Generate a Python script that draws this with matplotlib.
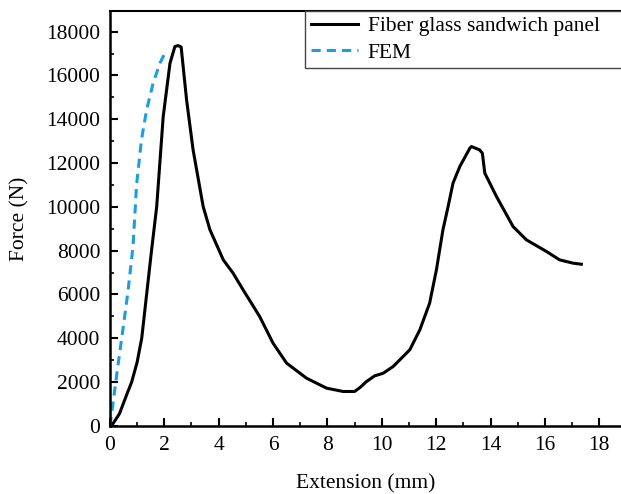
import matplotlib.pyplot as plt
from matplotlib.ticker import MultipleLocator

# experimental curve (extension in mm, force in N)
exp_x = [0.0, 0.06, 0.35, 0.61, 0.80, 1.00, 1.17, 1.35, 1.53, 1.72, 1.96, 2.21, 2.39, 2.51,
         2.62, 2.82, 3.06, 3.43, 3.68, 3.98, 4.17, 4.53, 4.90, 5.51, 6.00, 6.50, 7.23, 7.97,
         8.58, 9.00, 9.20, 9.44, 9.74, 10.05, 10.42, 11.03, 11.40, 11.76, 12.01, 12.25, 12.44,
         12.62, 12.87, 13.24, 13.30, 13.60, 13.70, 13.79, 14.22, 14.83, 15.32, 16.06, 16.54,
         17.03, 17.34]
exp_y = [0, 0, 550, 1400, 2000, 2900, 4000, 6000, 8000, 10000, 14123, 16560, 17320, 17365,
         17300, 14886, 12600, 10013, 8950, 8114, 7580, 6972, 6210, 4990, 3775, 2862, 2177, 1720,
         1568, 1568, 1750, 2024, 2283, 2400, 2710, 3470, 4383, 5600, 7123, 8950, 10013,
         11082, 11840, 12680, 12754, 12600, 12450, 11540, 10470, 9100, 8493, 7960, 7580,
         7430, 7380]

# FEM curve
fem_x = [0.0, 0.10, 0.30, 0.50, 0.67, 0.85, 0.98, 1.16, 1.35, 1.59, 1.84, 2.08]
fem_y = [0, 900, 2800, 4600, 6200, 8200, 11000, 13060, 14430, 15650, 16560, 17170]

plt.rcParams['font.family'] = 'Liberation Serif'

fig = plt.figure(figsize=(6.21, 4.94), dpi=100)
ax = fig.add_axes([0.177, 0.138, 0.823, 0.84])

ax.plot(exp_x, exp_y, color='black', lw=2.2, label='Fiber glass sandwich panel')
ax.plot(fem_x, fem_y, color='#1a9ee0', lw=2.2, ls=(0, (3, 2)), label='FEM')

ax.set_xlim(0, 18.8)
ax.set_ylim(0, 18950)
ax.xaxis.set_major_locator(MultipleLocator(2))
ax.xaxis.set_minor_locator(MultipleLocator(1))
ax.yaxis.set_major_locator(MultipleLocator(2000))
ax.yaxis.set_minor_locator(MultipleLocator(1000))
ax.tick_params(which='both', direction='in', labelsize=15.5, top=False, right=False, pad=7)
ax.tick_params(which='major', length=6, width=1.5)
ax.tick_params(which='minor', length=3, width=1.2)
ax.spines['right'].set_visible(False)
for s in ['left', 'bottom']:
    ax.spines[s].set_linewidth(1.8)
ax.spines['top'].set_linewidth(1.5)

ax.set_xlabel('Extension (mm)', fontsize=15.5, labelpad=14)
ax.set_ylabel('Force (N)', fontsize=15.5, labelpad=12)

leg = ax.legend(loc='upper left', bbox_to_anchor=(0.382, 0.0, 0.7, 1.0), mode='expand',
                fontsize=15.5, fancybox=False, framealpha=1, edgecolor='#444444',
                handlelength=2.2, borderaxespad=0.0, borderpad=0.25, labelspacing=0.3,
                handletextpad=0.45)
leg.get_frame().set_linewidth(1.0)

fig.savefig('out.png', dpi=100)
